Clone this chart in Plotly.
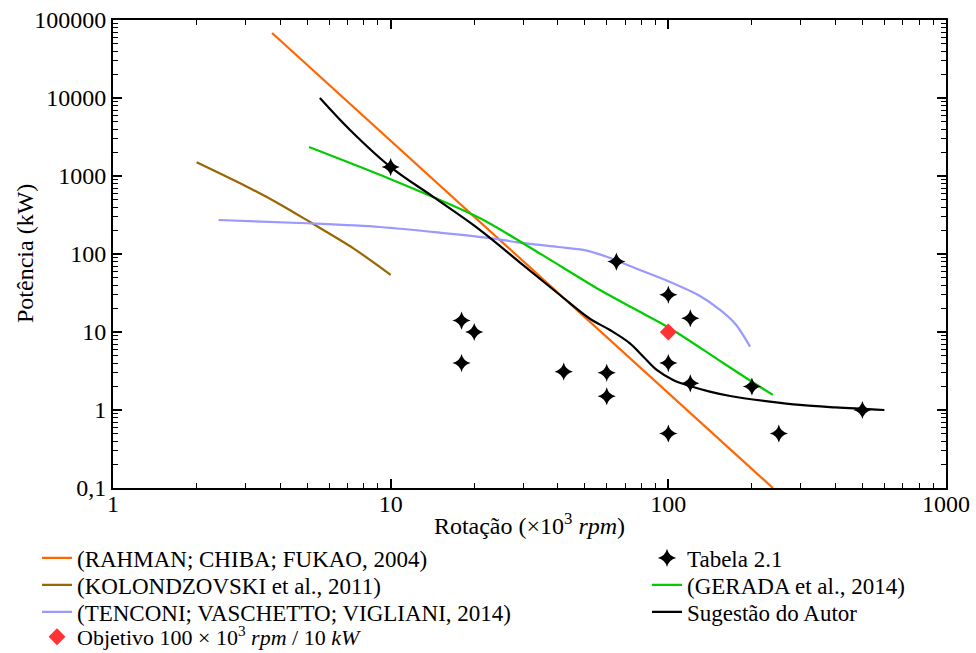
import plotly.graph_objects as go

# ---------------- data ----------------
rahman_x = [3.74, 238]
rahman_y = [68000, 0.1]

kolon_x = [2, 3, 4, 5.12, 7.32, 10]
kolon_y = [1500, 745, 432, 257, 119, 54]

tenconi_x = [2.4, 5, 9.15, 22.8, 29.2, 40, 50, 60, 75, 101, 130, 154, 175, 197]
tenconi_y = [273, 248, 222, 160, 140, 123, 112, 92, 67, 44.2, 29.0, 19.1, 12.5, 6.5]

gerada_x = [5.08, 10, 21, 35, 56.7, 76.9, 100, 150, 200, 238]
gerada_y = [2355, 910, 287, 98, 34.5, 19.1, 11.5, 4.5, 2.3, 1.56]

autor_x = [5.56, 7.14, 10, 14.2, 21, 30, 40.7, 52.2, 61.6, 72.7, 81.3, 90.8, 104,
           119.6, 141, 167, 232, 298, 400, 600]
autor_y = [10000, 3890, 1300, 543, 203, 72, 29.8, 14.8, 10.6, 7.16, 4.82, 3.26, 2.43,
           2.03, 1.72, 1.51, 1.28, 1.16, 1.08, 1.0]

tabela_x = [10, 18, 20, 18, 42, 60, 60, 65, 100, 100, 100, 120, 120, 200, 250, 500]
tabela_y = [1300, 14, 10, 4, 3.1, 3, 1.5, 80, 30, 4, 0.5, 15, 2.2, 2, 0.5, 1]

obj_x = [100]
obj_y = [10]

x_tickvals = [1, 10, 100, 1000]
x_ticktext = ["1", "10", "100", "1000"]
y_tickvals = [0.1, 1, 10, 100, 1000, 10000, 100000]
y_ticktext = ["0,1", "1", "10", "100", "1000", "10000", "100000"]

x_minor = [m * d for d in (1, 10, 100) for m in range(2, 10)]
y_minor = [m * d for d in (0.1, 1, 10, 100, 1000, 10000) for m in range(2, 10)]

FONT = "Liberation Serif"
W, H = 976, 653
ML, MR, MT, MB = 113, 30, 20, 165

fig = go.Figure()

LW = 2.2
SM = 0.8
fig.add_trace(go.Scatter(x=rahman_x, y=rahman_y, mode="lines",
                         line=dict(color="#ff6600", width=LW),
                         name="(RAHMAN; CHIBA; FUKAO, 2004)", legend="legend"))
fig.add_trace(go.Scatter(x=kolon_x, y=kolon_y, mode="lines",
                         line=dict(color="#996600", width=LW, shape="spline", smoothing=SM),
                         name="(KOLONDZOVSKI et al., 2011)", legend="legend2"))
fig.add_trace(go.Scatter(x=tenconi_x, y=tenconi_y, mode="lines",
                         line=dict(color="#9999ff", width=LW, shape="spline", smoothing=SM),
                         name="(TENCONI; VASCHETTO; VIGLIANI, 2014)", legend="legend3"))
fig.add_trace(go.Scatter(x=gerada_x, y=gerada_y, mode="lines",
                         line=dict(color="#00cc00", width=LW, shape="spline", smoothing=SM),
                         name="(GERADA et al., 2014)", legend="legend6"))
fig.add_trace(go.Scatter(x=autor_x, y=autor_y, mode="lines",
                         line=dict(color="black", width=LW, shape="spline", smoothing=1.0),
                         name="Sugestão do Autor", legend="legend7"))
fig.add_trace(go.Scatter(x=tabela_x, y=tabela_y, mode="markers",
                         marker=dict(symbol="star-diamond", size=13, color="black",
                                     line=dict(width=0)),
                         name="Tabela 2.1", legend="legend5"))
fig.add_trace(go.Scatter(x=obj_x, y=obj_y, mode="markers",
                         marker=dict(symbol="diamond", size=13, color="#ff3333",
                                     line=dict(width=0)),
                         name="Objetivo 100 × 10<sup>3</sup> <i>rpm</i> / 10 <i>kW</i>",
                         legend="legend4"))

row_y = [558, 585, 612, 637]
left_x = 37
right_x = 647


def leg(xpx, ypx, size=23):
    return dict(xref="container", yref="container", x=xpx / W, y=1 - ypx / H,
                xanchor="left", yanchor="middle", bgcolor="rgba(0,0,0,0)",
                borderwidth=0, font=dict(family=FONT, size=size, color="black"),
                itemwidth=30, visible=True)


axis_common = dict(type="log", showgrid=False, zeroline=False, showline=True,
                   linecolor="black", linewidth=2, mirror="allticks",
                   ticks="inside", ticklen=9, tickwidth=1.6, tickcolor="black",
                   tickfont=dict(family=FONT, size=24, color="black"),
                   tickmode="array", automargin=True)

fig.update_layout(
    width=W, height=H,
    showlegend=True,
    margin=dict(l=ML, r=MR, t=MT, b=MB, autoexpand=False),
    paper_bgcolor="white", plot_bgcolor="white",
    font=dict(family=FONT, color="black"),
    xaxis=dict(**axis_common, range=[0, 3], tickvals=x_tickvals, ticktext=x_ticktext,
               ticklabelstandoff=-7,
               minor=dict(ticks="inside", ticklen=5, tickwidth=1.4, tickcolor="black",
                          tickmode="array", tickvals=x_minor, showgrid=False),
               title=dict(text="Rotação (×10<sup>3</sup> <i>rpm</i>)",
                          font=dict(family=FONT, size=24, color="black"), standoff=1)),
    yaxis=dict(**axis_common, range=[-1, 5], tickvals=y_tickvals, ticktext=y_ticktext,
               minor=dict(ticks="inside", ticklen=5, tickwidth=1.4, tickcolor="black",
                          tickmode="array", tickvals=y_minor, showgrid=False)),
    legend=leg(left_x, row_y[0]),
    legend2=leg(left_x, row_y[1]),
    legend3=leg(left_x, row_y[2]),
    legend4=leg(left_x, row_y[3], 22),
    legend5=leg(right_x, row_y[0]),
    legend6=leg(right_x, row_y[1]),
    legend7=leg(right_x, row_y[2]),
    annotations=[dict(text="Potência (kW)", textangle=-90, showarrow=False,
                      xref="paper", yref="paper",
                      x=(25 - ML) / (W - ML - MR), y=0.5,
                      xanchor="center", yanchor="middle",
                      font=dict(family=FONT, size=24, color="black"))],
)

fig.write_html("out.html")
